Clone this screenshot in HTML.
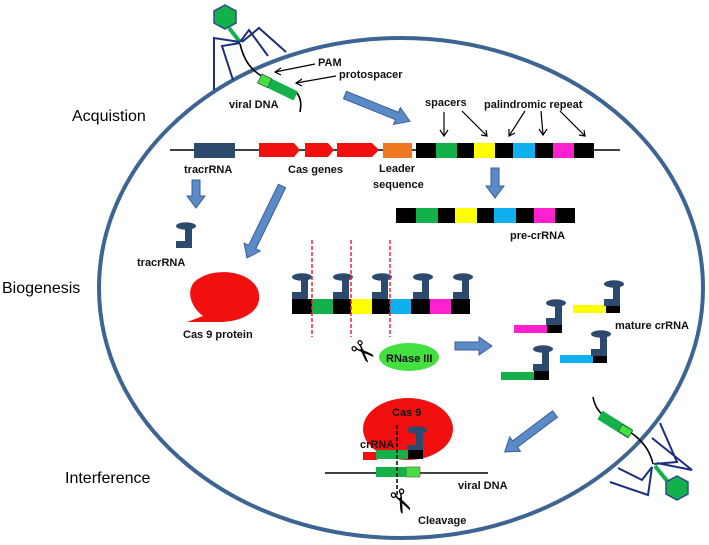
<!DOCTYPE html>
<html><head><meta charset="utf-8"><style>
html,body{margin:0;padding:0;background:#fff;}
svg{display:block;}
text{font-family:"Liberation Sans",sans-serif;}
.lb{font-size:11px;font-weight:bold;fill:#111;}
.big{font-size:16px;fill:#000;}
</style></head><body>
<svg width="709" height="545" viewBox="0 0 709 545" xmlns="http://www.w3.org/2000/svg">
<defs>
<g id="hm">
<ellipse cx="0" cy="0" rx="10" ry="3.8" fill="#2c4a6e"/>
<rect x="-1" y="2" width="7" height="20" fill="#2c4a6e"/>
<rect x="-10" y="15" width="16" height="7" fill="#2c4a6e"/>
</g>
</defs>

<ellipse cx="401" cy="288" rx="302" ry="250" fill="none" stroke="#3d6594" stroke-width="4"/>

<text x="72" y="121" class="big">Acquistion</text>
<text x="2" y="293" class="big">Biogenesis</text>
<text x="65" y="483" class="big">Interference</text>

<!-- top phage -->
<polygon points="225,5 236,11 236,23 225,29 214,23 214,11" fill="#14b04a" stroke="#2c4a8e" stroke-width="1.5"/>
<line x1="229" y1="28" x2="240" y2="42" stroke="#14b04a" stroke-width="4"/>
<g stroke="#1b2f7a" stroke-width="2" fill="none">
<polyline points="240,42 214,38 214,90"/>
<polyline points="240,43 222,46 233,80"/>
<polyline points="240,42 249,30 268,56"/>
<polyline points="242,42 259,28 286,52"/>
</g>
<path d="M240,44 C244,60 250,70 265,78 L296,92 C300,96 302,102 300,112" fill="none" stroke="#000" stroke-width="1.6"/>
<g transform="translate(260,78) rotate(26)">
<rect x="0" y="-4.5" width="40" height="10" fill="#14b04a"/>
<rect x="0" y="-4.5" width="11" height="10" fill="#44e040" stroke="#333" stroke-width="0.6"/>
</g>
<text x="318" y="66" class="lb" font-size="12">PAM</text>
<text x="339" y="78" class="lb" font-size="12">protospacer</text>
<text x="229" y="108" class="lb">viral DNA</text>
<g stroke="#000" stroke-width="1.2" fill="none">
<line x1="315" y1="64" x2="275" y2="72"/><polyline points="281,68 275,72 281,75"/>
<line x1="336" y1="76" x2="296" y2="83"/><polyline points="302,79 296,83 302,86"/>
</g>

<g fill="#5b8ac6" stroke="#36619a" stroke-width="1">
<g transform="translate(345,95) rotate(22)"><polygon points="0,-4 56,-4 56,-9 70,0 56,9 56,4 0,4"/></g>
<g transform="translate(196,180) rotate(90)"><polygon points="0,-4 16,-4 16,-9 28,0 16,9 16,4 0,4"/></g>
<g transform="translate(282,186) rotate(116)"><polygon points="0,-4 68,-4 68,-9 80,0 68,9 68,4 0,4"/></g>
<g transform="translate(495,168) rotate(90)"><polygon points="0,-4 18,-4 18,-9 30,0 18,9 18,4 0,4"/></g>
<g transform="translate(455,346)"><polygon points="0,-4 24,-4 24,-9 37,0 24,9 24,4 0,4"/></g>
<g transform="translate(555,414) rotate(143)"><polygon points="0,-4 50,-4 50,-9 63,0 50,9 50,4 0,4"/></g>
</g>

<line x1="170" y1="150" x2="620" y2="150" stroke="#000" stroke-width="1.6"/>
<rect x="194" y="143" width="41" height="15" fill="#2c4a6e"/>
<polygon points="259,143 294,143 300,150 294,157 259,157" fill="#f01010"/>
<polygon points="305,143 328,143 334,150 328,157 305,157" fill="#f01010"/>
<polygon points="337,143 372,143 379,150 372,157 337,157" fill="#f01010"/>
<rect x="383" y="143" width="29" height="15" fill="#f07820"/>
<rect x="416" y="143" width="178" height="15" fill="#000"/>
<rect x="436" y="143" width="21" height="15" fill="#14b04a"/>
<rect x="474" y="143" width="21" height="15" fill="#ffff00"/>
<rect x="513" y="143" width="22" height="15" fill="#10b0f0"/>
<rect x="553" y="143" width="21" height="15" fill="#ff20d0"/>
<text x="184" y="173" class="lb">tracrRNA</text>
<text x="288" y="173" class="lb">Cas genes</text>
<text x="379" y="172" class="lb">Leader</text>
<text x="373" y="188" class="lb">sequence</text>
<text x="425" y="106" class="lb">spacers</text>
<text x="484" y="108" class="lb">palindromic repeat</text>
<g stroke="#000" stroke-width="1.2" fill="none">
<line x1="444" y1="112" x2="444" y2="136"/><polyline points="440,130 444,136 448,130"/>
<line x1="462" y1="111" x2="487" y2="136"/><polyline points="481,135 487,136 486,130"/>
<line x1="525" y1="111" x2="509" y2="136"/><polyline points="509,129 509,136 515,133"/>
<line x1="541" y1="111" x2="543" y2="135"/><polyline points="539,129 543,135 547,129"/>
<line x1="560" y1="111" x2="585" y2="136"/><polyline points="579,135 585,136 584,130"/>
</g>

<rect x="396" y="208" width="179" height="15" fill="#000"/>
<rect x="416" y="208" width="22" height="15" fill="#14b04a"/>
<rect x="455" y="208" width="22" height="15" fill="#ffff00"/>
<rect x="494" y="208" width="22" height="15" fill="#10b0f0"/>
<rect x="534" y="208" width="21" height="15" fill="#ff20d0"/>
<text x="510" y="239" class="lb">pre-crRNA</text>

<use href="#hm" x="186" y="226"/>
<text x="137" y="266" class="lb">tracrRNA</text>

<path d="M187,322 L203,316 C188,305 185,285 200,278 C215,268 250,270 258,290 C265,312 240,322 220,322 Z" fill="#f01010"/>
<text x="183" y="338" class="lb">Cas 9 protein</text>

<rect x="292" y="299" width="178" height="15" fill="#000"/>
<rect x="312" y="299" width="21" height="15" fill="#14b04a"/>
<rect x="351" y="299" width="21" height="15" fill="#ffff00"/>
<rect x="390" y="299" width="21" height="15" fill="#10b0f0"/>
<rect x="430" y="299" width="21" height="15" fill="#ff20d0"/>
<use href="#hm" x="302" y="277"/>
<use href="#hm" x="343" y="277"/>
<use href="#hm" x="382" y="277"/>
<use href="#hm" x="423" y="277"/>
<use href="#hm" x="463" y="277"/>
<g stroke="#f02040" stroke-width="1.5" stroke-dasharray="4,2">
<line x1="312" y1="240" x2="312" y2="337"/>
<line x1="351" y1="240" x2="351" y2="337"/>
<line x1="390" y1="240" x2="390" y2="337"/>
</g>
<text x="350" y="362" font-size="30" transform="rotate(45 362 352)">✂</text>
<ellipse cx="409" cy="357" rx="30" ry="14" fill="#44e040"/>
<text x="386" y="362" class="lb" font-size="12" fill="#111">RNase III</text>

<rect x="514" y="325" width="34" height="8" fill="#ff20d0"/><rect x="547" y="324" width="15" height="9" fill="#000"/><use href="#hm" x="556" y="303"/>
<rect x="573" y="305" width="34" height="8" fill="#ffff00"/><rect x="606" y="304" width="14" height="9" fill="#000"/><use href="#hm" x="614" y="284"/>
<rect x="501" y="372" width="34" height="8" fill="#14b04a"/><rect x="534" y="371" width="15" height="9" fill="#000"/><use href="#hm" x="543" y="349"/>
<rect x="560" y="355" width="34" height="8" fill="#10b0f0"/><rect x="593" y="354" width="14" height="9" fill="#000"/><use href="#hm" x="601" y="334"/>
<text x="615" y="329" class="lb">mature crRNA</text>

<ellipse cx="408" cy="429" rx="45" ry="31" fill="#f01010"/>
<text x="392" y="416" class="lb">Cas 9</text>
<use href="#hm" x="417" y="430"/>
<rect x="363" y="452" width="14" height="8" fill="#f01010"/>
<rect x="376" y="450" width="33" height="9" fill="#14b04a"/>
<rect x="408" y="450" width="15" height="9" fill="#000"/>
<text x="360" y="448" class="lb">crRNA</text>
<line x1="325" y1="473" x2="488" y2="473" stroke="#000" stroke-width="1.6"/>
<rect x="376" y="467" width="31" height="10" fill="#14b04a"/>
<rect x="406" y="467" width="14" height="10" fill="#44e040" stroke="#555" stroke-width="0.6"/>
<line x1="397" y1="425" x2="397" y2="495" stroke="#000" stroke-width="1.5" stroke-dasharray="4,2"/>
<text x="458" y="489" class="lb">viral DNA</text>
<text x="384" y="514" font-size="32" transform="rotate(65 400 505)">✂</text>
<text x="418" y="524" class="lb">Cleavage</text>

<!-- bottom-right phage -->
<path d="M593,397 C595,408 600,414 610,420 L630,432 C642,440 650,450 653,464" fill="none" stroke="#000" stroke-width="1.6"/>
<g transform="translate(600,415) rotate(32)">
<rect x="0" y="-5" width="36" height="10" fill="#14b04a"/>
<rect x="24" y="-4" width="12" height="8" fill="#44e040" stroke="#333" stroke-width="0.6"/>
</g>
<g stroke="#1b2f7a" stroke-width="2" fill="none">
<polyline points="610,482 648,495 652,467"/>
<polyline points="618,468 642,480 652,467"/>
<polyline points="660,423 677,462 654,464"/>
<polyline points="652,438 692,470 657,463"/>
</g>
<line x1="655" y1="466" x2="668" y2="482" stroke="#14b04a" stroke-width="4"/>
<polygon points="677,476 688,482 688,494 677,500 666,494 666,482" fill="#14b04a" stroke="#2c4a8e" stroke-width="1.5"/>
</svg>
</body></html>
